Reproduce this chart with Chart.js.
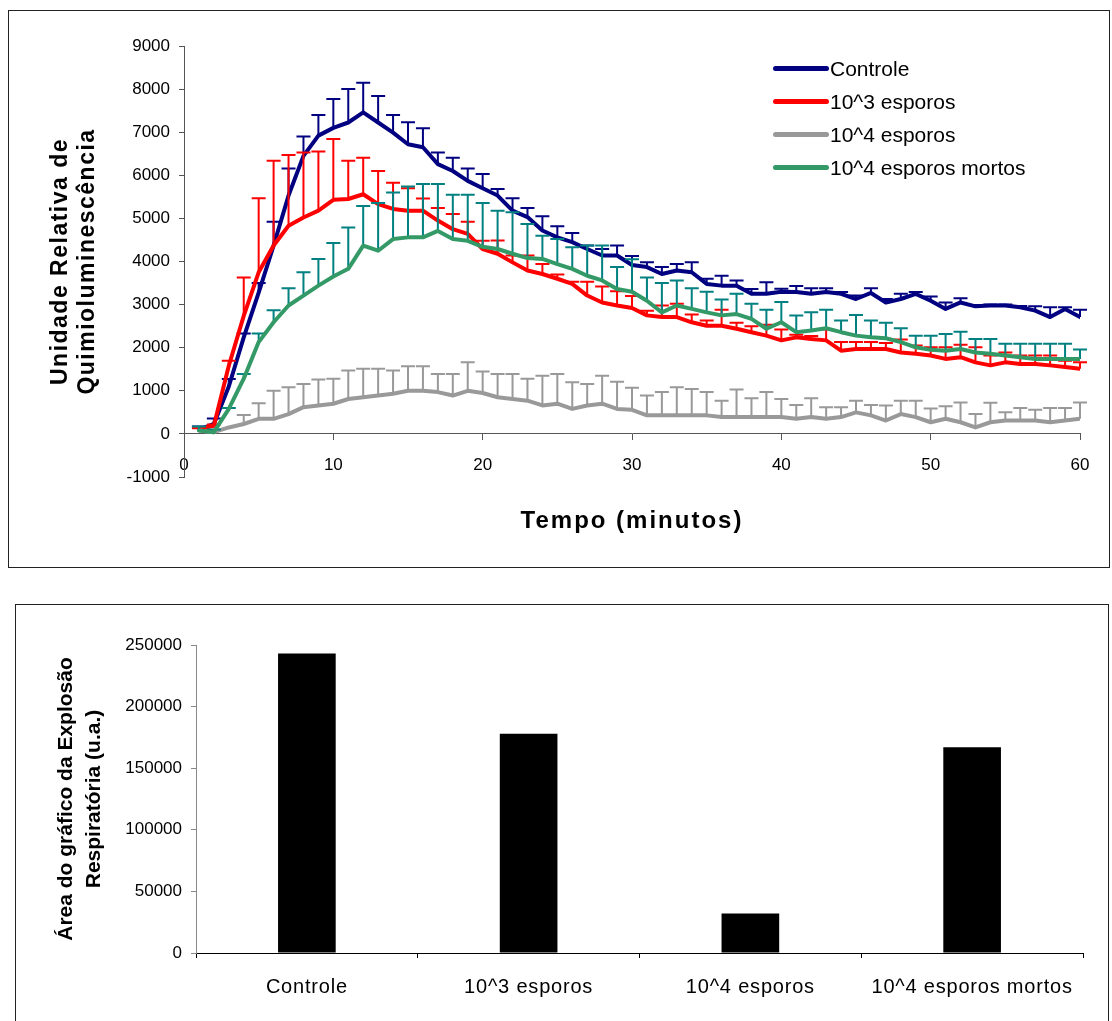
<!DOCTYPE html>
<html><head><meta charset="utf-8">
<script src="https://cdn.jsdelivr.net/npm/chart.js@4.4.0/dist/chart.umd.min.js"></script>
<style>
html,body{margin:0;padding:0;background:#fff;width:1112px;height:1021px;overflow:hidden;font-family:"Liberation Sans",Arial,sans-serif;}
.box{position:absolute;border:1.5px solid #222;box-sizing:border-box;}
#box1{left:8px;top:10px;width:1102px;height:558px;}
#box2{left:15px;top:604px;width:1094px;height:440px;}
.cv{position:absolute;}
#c1{left:10px;top:12px;}
#c2{left:17px;top:606px;}
#legend{position:absolute;left:773px;top:52px;font-size:21px;color:#000;}
.li{height:33px;display:flex;align-items:center;white-space:nowrap;}
.sw{width:56px;height:5px;border-radius:3px;margin-right:1px;}
</style></head>
<body>
<div class="box" id="box1"></div>
<div class="box" id="box2"></div>
<div class="cv" id="c1"><canvas id="chart1" width="1098" height="563"></canvas></div>
<div class="cv" id="c2"><canvas id="chart2" width="1090" height="415"></canvas></div>
<div id="legend"></div>
<script>
// ---- data: top chart (time course) ----
const minutes = [1,2,3,4,5,6,7,8,9,10,11,12,13,14,15,16,17,18,19,20,21,22,23,24,25,26,27,28,29,30,31,32,33,34,35,36,37,38,39,40,41,42,43,44,45,46,47,48,49,50,51,52,53,54,55,56,57,58,59,60];
const seriesNames = ["Controle","10^3 esporos","10^4 esporos","10^4 esporos mortos"];
const controle = [100,230,1100,2240,3280,4370,5530,6450,6920,7100, 7225,7460,7225,6990,6720,6650,6260,6100,5870,5700, 5530,5180,5030,4720,4560,4450,4290,4140,4140,3920, 3870,3710,3790,3750,3480,3440,3440,3250,3250,3300, 3290,3250,3290,3250,3130,3270,3050,3130,3250,3090, 2900,3050,2960,2980,2980,2940,2860,2710,2900,2710];
const controleErr = [70,130,175,90,220,550,630,450,480,670, 775,690,615,410,510,440,270,310,290,330, 150,290,210,330,260,210,80,150,230,210, 110,160,150,230,120,230,120,110,270,70, 140,130,90,40,80,110,80,120,40,100, 150,100,30,20,20,30,100,230,40,170];
const esporos3 = [115,190,1580,2740,3750,4370,4830,5020,5180,5430, 5450,5560,5330,5220,5180,5180,4950,4750,4640,4290, 4180,3980,3790,3710,3600,3480,3210,3050,2980,2920, 2750,2710,2710,2590,2510,2510,2440,2360,2280,2170, 2240,2200,2170,1930,1970,1970,1970,1890,1860,1820, 1740,1780,1660,1590,1660,1620,1620,1590,1550,1510];
const esporos3Err = [15,30,120,890,1720,1970,1640,1510,1370,1410, 890,850,770,610,520,280,290,350,280,190, 310,160,350,230,100,50,320,370,330,280, 110,270,310,180,120,370,140,140,250,250, 60,70,250,200,160,160,140,300,190,190, 270,290,350,230,230,200,200,230,150,150];
const esporos4 = [80,40,150,230,350,350,460,620,660,700, 810,850,890,930,1000,1000,970,890,1000,950, 850,810,770,660,700,580,660,700,580,560, 430,430,430,430,430,390,390,390,390,390, 350,390,350,390,500,430,310,460,390,270, 350,270,150,270,310,310,310,270,310,350];
const esporos4Err = [0,0,0,210,360,650,620,540,600,580, 660,660,620,540,570,570,420,500,660,500, 540,580,510,690,690,620,500,650,630,510, 460,540,650,610,540,380,640,440,580,420, 320,440,270,230,270,240,350,310,380,320, 290,460,310,450,190,290,250,330,290,380];
const mortos = [80,40,580,1280,2130,2590,2980,3210,3440,3650, 3830,4370,4250,4520,4560,4560,4710,4520,4480,4340, 4290,4180,4080,4060,3940,3830,3670,3560,3360,3300, 3090,2820,2980,2900,2820,2750,2780,2670,2440,2590, 2360,2400,2450,2360,2280,2240,2220,2130,2010,1950, 1930,1970,1890,1860,1820,1780,1740,1740,1740,1740];
const mortosErr = [90,60,20,110,200,280,400,540,620,780, 960,920,1110,1080,1180,1240,1090,1030,1070,1020, 890,960,790,540,580,500,700,810,510,750, 540,680,580,480,480,370,470,350,440,470, 390,420,430,270,480,390,360,320,270,330, 390,400,310,340,270,310,350,350,350,220];
const xTicks = [0,10,20,30,40,50,60];
const yTicks = [-1000,0,1000,2000,3000,4000,5000,6000,7000,8000,9000];

// ---- data: bottom chart (area) ----
const barCategories = ["Controle","10^3 esporos","10^4 esporos","10^4 esporos mortos"];
const barValues = [243000,178000,32000,167000];
const barTicks = [0,50000,100000,150000,200000,250000];

Chart.defaults.font.family = '"Liberation Sans", Arial, sans-serif';
Chart.defaults.color = '#000';

const toPts = (ys) => minutes.map((m,i)=>({x:m,y:ys[i]}));
const styles = [
  {line:'#000080', err:'#000080', order:4},
  {line:'#FF0000', err:'#FF0000', order:3},
  {line:'#999999', err:'#999999', order:2},
  {line:'#339966', err:'#008080', order:1}
];
const values = [controle, esporos3, esporos4, mortos];
const errs = [controleErr, esporos3Err, esporos4Err, mortosErr];

const errorBars = {
  id:'errorBars',
  beforeDatasetDraw(chart, args){
    const ds = chart.data.datasets[args.index];
    if(!ds.errPlus) return;
    const xs = chart.scales.x, ys = chart.scales.y, ctx = chart.ctx;
    ctx.save();
    ctx.strokeStyle = ds.errColor; ctx.lineWidth = 2; ctx.lineCap='butt';
    ds.data.forEach((p,i)=>{
      const e = ds.errPlus[i];
      if(!e) return;
      const px = xs.getPixelForValue(p.x);
      const y0 = ys.getPixelForValue(p.y);
      const y1 = ys.getPixelForValue(p.y + e);
      ctx.beginPath();
      ctx.moveTo(px, y0); ctx.lineTo(px, y1);
      ctx.moveTo(px-7, y1); ctx.lineTo(px+7, y1);
      ctx.stroke();
    });
    ctx.restore();
  }
};

// letter spacing for axis titles / labels (Excel-like wide text)
const spacingPlugin = {
  id:'spacing',
  beforeDraw(chart, args, opts){
    Object.keys(chart.scales).forEach(id=>{
      const s = chart.scales[id];
      if(s._spWrapped) return;
      const cfg = (opts && opts[id]) || {};
      const wrap = (name, val)=>{
        if(!val) return;
        const orig = s[name];
        s[name] = function(...a){ const c=this.ctx; c.save(); c.letterSpacing = val; orig.apply(this, a); c.restore(); };
      };
      wrap('drawTitle', cfg.title);
      wrap('drawLabels', cfg.labels);
      s._spWrapped = true;
    });
  }
};

new Chart(document.getElementById('chart1'), {
  type:'line',
  data:{
    datasets: seriesNames.map((n,k)=>({
      label:n, data:toPts(values[k]), errPlus:errs[k], errColor:styles[k].err,
      borderColor:styles[k].line, backgroundColor:styles[k].line, borderWidth:4,
      pointRadius:0, tension:0, order:styles[k].order, borderJoinStyle:'round', borderCapStyle:'round'
    }))
  },
  options:{
    responsive:false, animation:false, devicePixelRatio:1,
    layout:{padding:{left:0, top:34, right:28, bottom:98}},
    plugins:{legend:{display:false}, tooltip:{enabled:false},
      spacing:{x:{title:'2px'}, y:{title:'1.5px'}}},
    scales:{
      x:{
        type:'linear', position:{y:0}, min:0, max:60,
        afterBuildTicks:(s)=>{ s.ticks = xTicks.map(v=>({value:v})); },
        afterFit:(s)=>{ s.height = 102; },
        grid:{display:true, drawOnChartArea:false, drawTicks:true, tickLength:6, color:'#555', lineWidth:1},
        border:{display:true, color:'#555', width:1},
        ticks:{font:{size:17}, padding:15, maxRotation:0, autoSkip:false, callback:(v)=>String(v)},
        title:{display:true, text:'Tempo (minutos)', font:{size:24, weight:'bold', lineHeight:1.2}, padding:{top:0,bottom:0}}
      },
      y:{
        type:'linear', min:-1000, max:9000,
        afterBuildTicks:(s)=>{ s.ticks = yTicks.map(v=>({value:v})); },
        afterFit:(s)=>{ s.width = 174; },
        grid:{display:true, drawOnChartArea:false, drawTicks:true, tickLength:5, color:'#555'},
        border:{display:true, color:'#555', width:1},
        ticks:{font:{size:17}, padding:9, callback:(v)=>String(v)},
        title:{display:true, text:['Unidade Relativa de','Quimioluminescência'], font:{size:23, weight:'bold', lineHeight:'27px'}, padding:{top:37,bottom:0}}
      }
    }
  },
  plugins:[errorBars, spacingPlugin]
});

// HTML legend
const lg = document.getElementById('legend');
seriesNames.forEach((n,k)=>{
  const d = document.createElement('div'); d.className='li';
  const sw = document.createElement('span'); sw.className='sw'; sw.style.background = styles[k].line;
  const t = document.createElement('span'); t.textContent = n;
  d.appendChild(sw); d.appendChild(t); lg.appendChild(d);
});

new Chart(document.getElementById('chart2'), {
  type:'bar',
  data:{labels:barCategories, datasets:[{data:barValues, backgroundColor:'#000', borderWidth:0, barPercentage:0.26, categoryPercentage:1}]},
  options:{
    responsive:false, animation:false, devicePixelRatio:1,
    layout:{padding:{left:0, top:39, right:24, bottom:0}},
    plugins:{legend:{display:false}, tooltip:{enabled:false},
      spacing:{x:{labels:'0.8px'}}},
    scales:{
      x:{
        afterFit:(s)=>{ s.height = 68; },
        grid:{display:true, drawOnChartArea:false, drawTicks:true, tickLength:5, color:'#000', offset:true},
        border:{display:true, color:'#000', width:1},
        ticks:{font:{size:20}, padding:17, maxRotation:0, autoSkip:false}
      },
      y:{
        min:0, max:250000,
        afterBuildTicks:(s)=>{ s.ticks = barTicks.map(v=>({value:v})); },
        afterFit:(s)=>{ s.width = 179; },
        grid:{display:true, drawOnChartArea:false, drawTicks:true, tickLength:5, color:'#888'},
        border:{display:true, color:'#888', width:1},
        ticks:{font:{size:17}, padding:9, callback:(v)=>String(v)},
        title:{display:true, text:['Área do gráfico da Explosão','Respiratória (u.a.)'], font:{size:21, weight:'bold', lineHeight:'28px'}, padding:{top:35,bottom:0}}
      }
    }
  },
  plugins:[spacingPlugin]
});
</script>
</body></html>
